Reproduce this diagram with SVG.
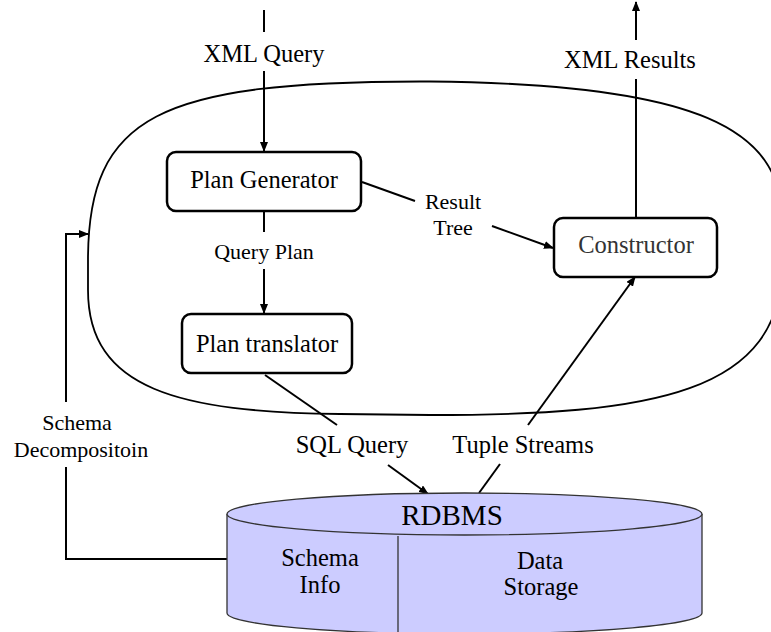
<svg xmlns="http://www.w3.org/2000/svg" width="771" height="632" viewBox="0 0 771 632">
  <style>
    text { font-family: 'Liberation Serif', 'Times New Roman', Times, 'DejaVu Serif', serif; fill: #000; text-anchor: middle; }
    .big { font-size: 24.5px; }
    .small { font-size: 22px; }
    .box { fill: #fff; stroke: #000; stroke-width: 2.5; }
    .wire { fill: none; stroke: #000; stroke-width: 2; }
    .db { fill: #ccccff; stroke: #333; stroke-width: 1.3; }
  </style>
  <defs>
    <marker id="arrow" markerWidth="10" markerHeight="8" refX="9" refY="4" orient="auto" markerUnits="userSpaceOnUse">
      <path d="M0,0 L10,4 L0,8 Z" fill="#000"/>
    </marker>
  </defs>

  <!-- middleware boundary -->
  <path id="boundary" d="M 420,81.5 C 160,82 88,115 88,260 L 88,290 C 88,390 180,412 340,414 L 430,415 C 650,415 785,395 782,260 L 782,220 C 782,130 700,84 430,81.5 Z" fill="none" stroke="#000" stroke-width="1.8"/>

  <!-- connectors -->
  <g id="connectors">
    <!-- XML Query input -->
    <line class="wire" x1="264" y1="10" x2="264" y2="32"/>
    <line class="wire" x1="264" y1="71" x2="264" y2="151" marker-end="url(#arrow)"/>
    <!-- Query Plan -->
    <line class="wire" x1="264" y1="211" x2="264" y2="232"/>
    <line class="wire" x1="264" y1="269" x2="264" y2="313" marker-end="url(#arrow)"/>
    <!-- Result Tree -->
    <line class="wire" x1="362" y1="182" x2="415" y2="201"/>
    <line class="wire" x1="492" y1="226" x2="553" y2="248" marker-end="url(#arrow)"/>
    <!-- XML Results output -->
    <line class="wire" x1="636" y1="218" x2="636" y2="79"/>
    <line class="wire" x1="636" y1="40" x2="636" y2="2" marker-end="url(#arrow)"/>
    <!-- SQL Query -->
    <line class="wire" x1="265" y1="375" x2="337" y2="425"/>
    <line class="wire" x1="388" y1="465" x2="428" y2="494" marker-end="url(#arrow)"/>
    <!-- Tuple Streams -->
    <line class="wire" x1="479" y1="493" x2="500" y2="464"/>
    <line class="wire" x1="528" y1="425" x2="635" y2="277" marker-end="url(#arrow)"/>
    <!-- Schema Decomposition -->
    <polyline class="wire" points="228,559 66,559 66,467"/>
    <polyline class="wire" points="66,402 66,234 88,234" marker-end="url(#arrow)"/>
  </g>

  <!-- connector labels -->
  <g id="labels">
    <text class="big" x="264" y="62">XML Query</text>
    <text class="small" x="264" y="259">Query Plan</text>
    <text class="small" x="453" y="209">Result</text>
    <text class="small" x="453" y="235">Tree</text>
    <text class="big" x="630" y="68">XML Results</text>
    <text class="big" x="352" y="453">SQL Query</text>
    <text class="big" x="523" y="453">Tuple Streams</text>
    <text class="small" x="77" y="430">Schema</text>
    <text class="small" x="81" y="457">Decompositoin</text>
  </g>

  <g id="plan-generator">
    <rect class="box" x="167" y="152" width="194" height="59" rx="9"/>
    <text class="big" x="264" y="188">Plan Generator</text>
  </g>

  <g id="plan-translator">
    <rect class="box" x="182" y="314" width="170" height="59" rx="9"/>
    <text class="big" x="267" y="352">Plan translator</text>
  </g>

  <g id="constructor">
    <rect class="box" x="554" y="218" width="163" height="59" rx="9"/>
    <text class="big" x="636" y="253" style="fill:#333">Constructor</text>
  </g>

  <g id="rdbms">
    <path class="db" d="M 227,514 L 227,613 A 237.5,21 0 0 0 702,613 L 702,514 A 237.5,21 0 0 0 227,514 Z"/>
    <path class="db" d="M 227,514 A 237.5,21 0 0 0 702,514"/>
    <line x1="398" y1="536" x2="398" y2="632" stroke="#333" stroke-width="1.3"/>
    <text x="452" y="525" style="font-size:29px">RDBMS</text>
    <text class="big" x="320" y="566">Schema</text>
    <text class="big" x="320" y="593">Info</text>
    <text class="big" x="540" y="569">Data</text>
    <text class="big" x="541" y="595">Storage</text>
  </g>
</svg>
